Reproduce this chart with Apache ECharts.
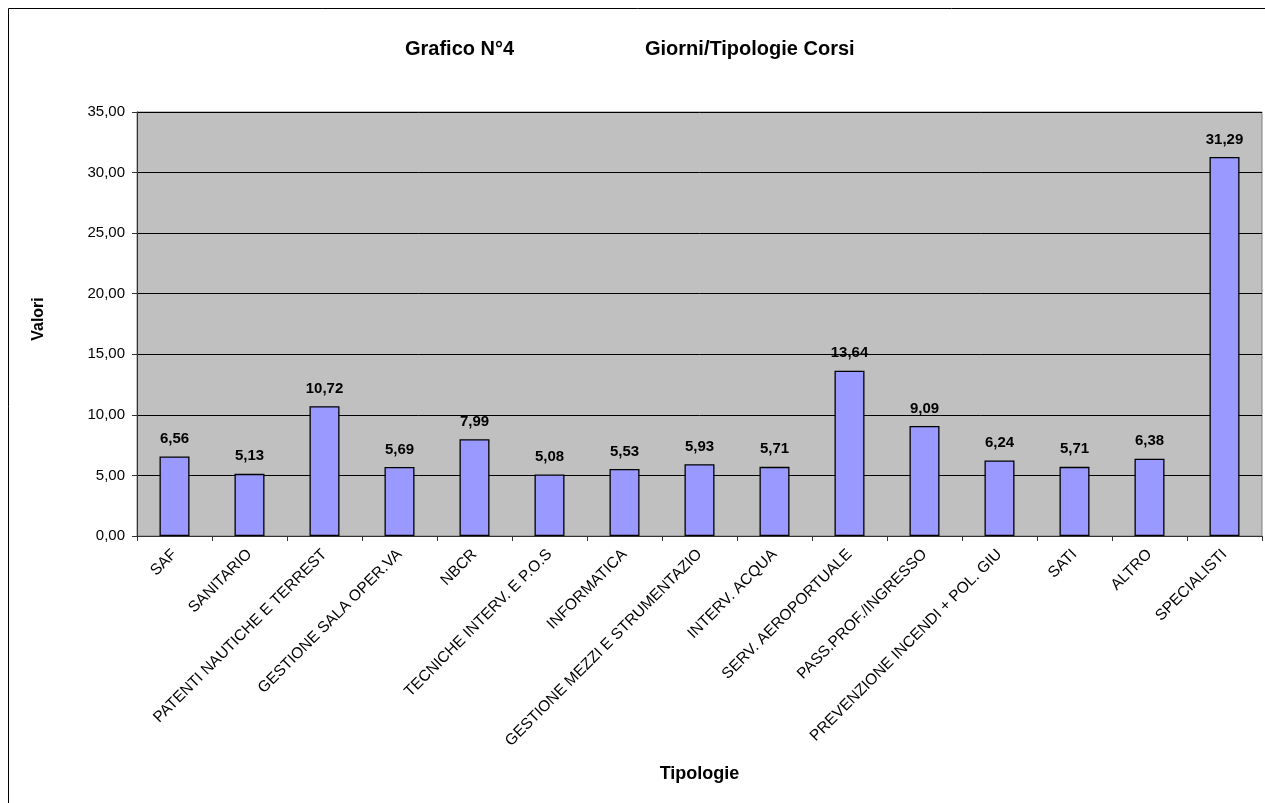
<!DOCTYPE html>
<html>
<head>
<meta charset="utf-8">
<style>html,body{margin:0;padding:0;background:#fff}#c{width:1265px;height:803px}</style>
<script src="https://cdn.jsdelivr.net/npm/echarts@6/dist/echarts.min.js"></script>
</head>
<body>
<div id="c"></div>
<script>
var categories = ["SAF", "SANITARIO", "PATENTI NAUTICHE E TERREST", "GESTIONE SALA OPER.VA", "NBCR", "TECNICHE INTERV. E P.O.S", "INFORMATICA", "GESTIONE MEZZI E STRUMENTAZIO", "INTERV. ACQUA", "SERV. AEROPORTUALE", "PASS.PROF./INGRESSO", "PREVENZIONE INCENDI + POL. GIU", "SATI", "ALTRO", "SPECIALISTI"];
var values = [6.56, 5.13, 10.72, 5.69, 7.99, 5.08, 5.53, 5.93, 5.71, 13.64, 9.09, 6.24, 5.71, 6.38, 31.29];
var yTicks = [0, 5, 10, 15, 20, 25, 30, 35];

var FONT = "Liberation Sans, Arial, sans-serif";
function fmt(v){ return v.toFixed(2).replace('.', ','); }

var chart = echarts.init(document.getElementById('c'), null, {renderer: 'canvas'});
chart.setOption({
  animation: false,
  backgroundColor: '#ffffff',
  textStyle: {fontFamily: FONT},
  title: [
    {text: 'Grafico N°4', left: 400, top: 34, textStyle: {fontFamily: FONT, fontSize: 20, fontWeight: 'bold', color: '#000'}},
    {text: 'Giorni/Tipologie Corsi', left: 640, top: 34, textStyle: {fontFamily: FONT, fontSize: 20, fontWeight: 'bold', color: '#000'}}
  ],
  graphic: [
    {type: 'rect', shape: {x: 8.5, y: 8.5, width: 1400, height: 1000}, style: {fill: 'none', stroke: '#000', lineWidth: 1}, silent: true, z: -1}
  ],
  grid: {left: 137, top: 112, right: 3, bottom: 267, show: true, backgroundColor: '#C0C0C0', borderColor: '#808080', borderWidth: 1},
  xAxis: {
    type: 'category',
    data: categories,
    name: 'Tipologie',
    nameLocation: 'middle',
    nameGap: 229,
    nameTextStyle: {fontFamily: FONT, fontSize: 18, fontWeight: 'bold', color: '#000'},
    axisLine: {show: true, lineStyle: {color: '#333', width: 1}},
    axisTick: {show: true, alignWithLabel: false, length: 5, lineStyle: {color: '#333'}},
    axisLabel: {rotate: 45, interval: 0, margin: 16, fontFamily: FONT, fontSize: 15.5, color: '#000'},
    splitLine: {show: false}
  },
  yAxis: {
    type: 'value',
    min: yTicks[0],
    max: yTicks[yTicks.length - 1],
    interval: 5,
    name: 'Valori',
    nameLocation: 'middle',
    nameGap: 90,
    nameRotate: 90,
    nameTextStyle: {fontFamily: FONT, fontSize: 16, fontWeight: 'bold', color: '#000', padding: [0, 0, 0, 10]},
    axisLine: {show: true, lineStyle: {color: '#333', width: 1}},
    axisTick: {show: true, length: 5, lineStyle: {color: '#333'}},
    axisLabel: {margin: 12, fontFamily: FONT, fontSize: 15, color: '#000', formatter: function(v){ return fmt(v); }},
    splitLine: {show: true, lineStyle: {color: '#000', width: 1}}
  },
  series: [{
    type: 'bar',
    data: values,
    barWidth: 30,
    itemStyle: {color: '#9999FF', borderColor: '#000', borderWidth: 1.3},
    label: {show: true, position: 'top', distance: 10, fontFamily: FONT, fontSize: 15, fontWeight: 'bold', color: '#000', formatter: function(p){ return fmt(p.value); }}
  }]
});
</script>
</body>
</html>
